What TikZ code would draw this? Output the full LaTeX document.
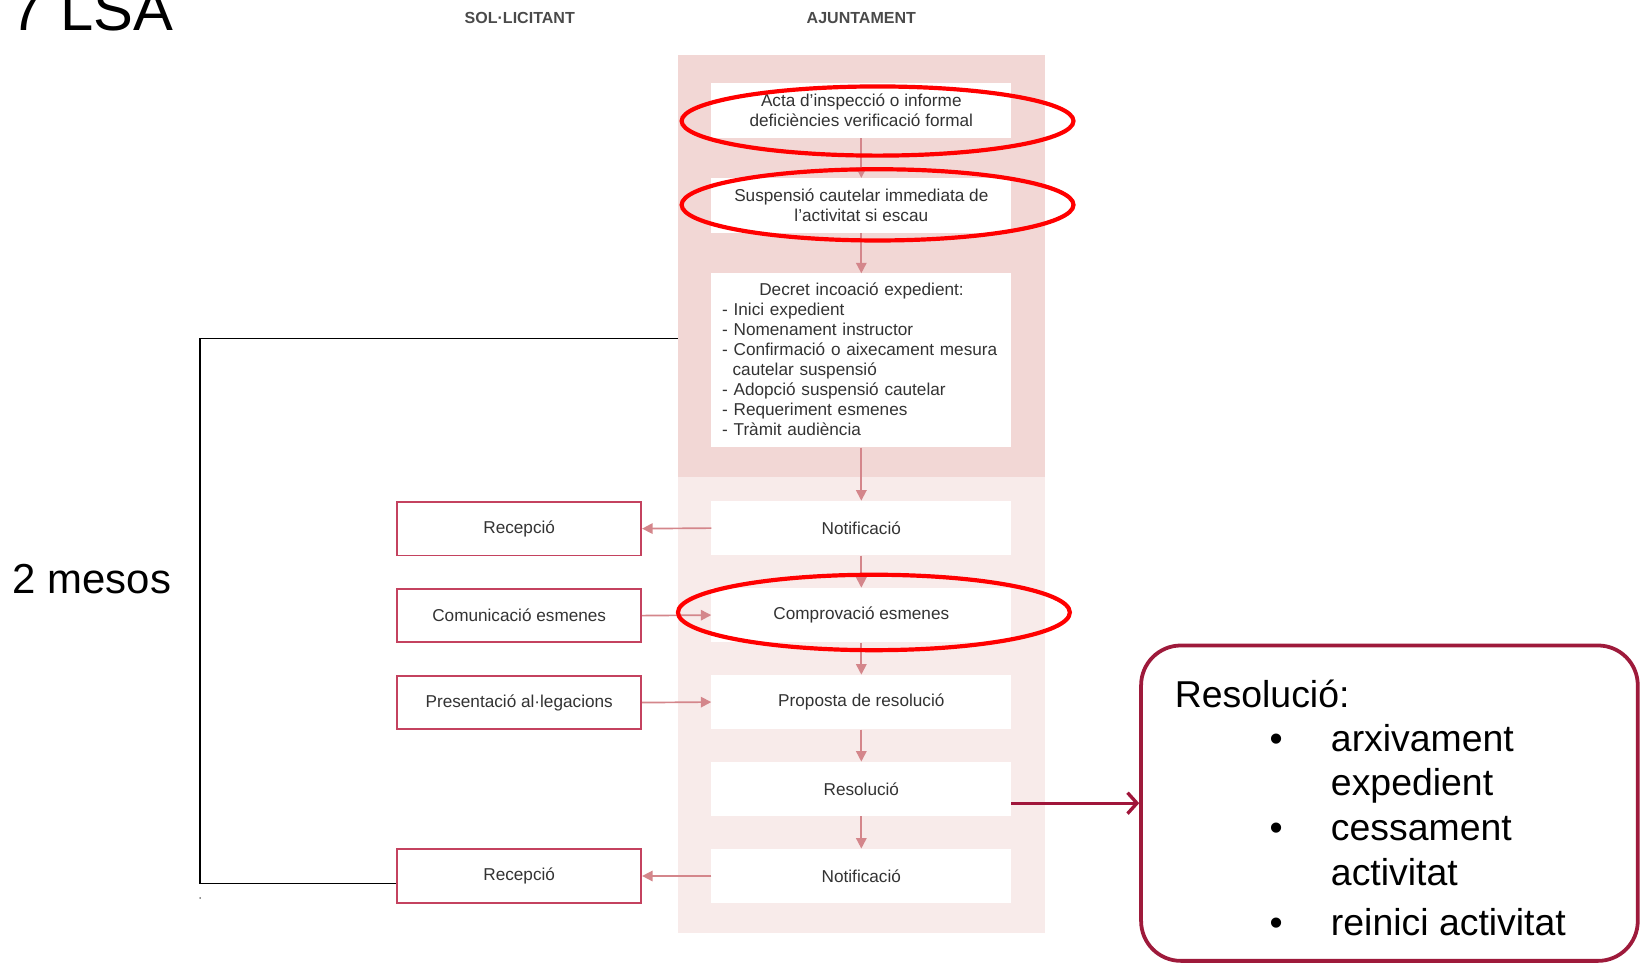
\documentclass[tikz,border=0pt]{standalone}
\usepackage{fontspec}
\setmainfont{Liberation Sans}
\usetikzlibrary{arrows.meta}
\definecolor{pinkA}{HTML}{F2D7D5}
\definecolor{pinkB}{HTML}{F8EBEA}
\definecolor{arrowpink}{HTML}{D4868B}
\definecolor{boxred}{HTML}{C4425F}
\definecolor{darkred}{HTML}{A0153A}
\definecolor{resred}{HTML}{9E1A3B}
\definecolor{txtgray}{HTML}{333333}
\definecolor{hdrgray}{HTML}{4A4A4A}
\begin{document}
\begin{tikzpicture}[x=1pt,y=-1pt,
  flowfont/.style={text=txtgray, font=\fontsize{16.4}{19}\selectfont},
  flowbox/.style={flowfont, fill=white, draw=none, minimum width=286pt, minimum height=52pt, inner sep=0pt, align=center},
  solbox/.style={flowfont, fill=white, draw=boxred, line width=1.6pt, minimum width=233pt, minimum height=51pt, inner sep=0pt},
  flowarrow/.style={draw=arrowpink, line width=1.6pt, -{Triangle[length=10pt,width=10pt]}},
  redring/.style={draw=red, line width=4pt},
  bracket/.style={draw=black, line width=1.4pt},
  resarrow/.style={draw=darkred, line width=3.2pt, -{Straight Barb[length=9pt,width=20pt]}},
  resframe/.style={draw=resred, line width=3.6pt, fill=white, rounded corners=38pt, minimum width=474pt, minimum height=301pt, inner sep=0pt},
  restext/.style={font=\fontsize{35.7}{43}\selectfont, inner sep=0pt},
  header/.style={text=hdrgray, font=\fontsize{15.3}{18}\selectfont\bfseries, inner sep=0pt}
]
\useasboundingbox (0,0) rectangle (1568,922);

% backgrounds
\node[fill=pinkA, minimum width=350pt, minimum height=403pt, inner sep=0pt, anchor=north west] (bgA) at (647,52) {};
\node[fill=pinkB, minimum width=350pt, minimum height=435pt, inner sep=0pt, anchor=north west] (bgB) at (647,455) {};

% titles
\node[font=\fontsize{57}{60}\selectfont, inner sep=0pt, anchor=base west] (title) at (10,29) {7 LSA};
\node[header, anchor=base] (hsol) at (496,22) {SOL·LICITANT};
\node[header, anchor=base] (hajt) at (822,22) {AJUNTAMENT};

% ajuntament column
\node[flowbox] (a1) at (822,105.5) {Acta d’inspecció o informe\\deficiències verificació formal};
\node[flowbox] (a2) at (822,196) {Suspensió cautelar immediata de\\l’activitat si escau};
\node[flowbox, minimum height=166pt] (a3) at (822,344) {};
\node[flowfont, text width=280pt, align=left, inner sep=0pt, anchor=north west] (a3t) at (689,270)
  {\makebox[266pt]{Decret incoació expedient:}\\
   - Inici expedient\\
   - Nomenament instructor\\
   - Confirmació o aixecament mesura\\
   \hspace*{10pt}cautelar suspensió\\
   - Adopció suspensió cautelar\\
   - Requeriment esmenes\\
   - Tràmit audiència};
\node[flowbox] (a4) at (822,504) {Notificació};
\node[flowbox] (a5) at (822,587) {Comprovació esmenes};
\node[flowbox] (a6) at (822,670) {Proposta de resolució};
\node[flowbox] (a7) at (822,753) {Resolució};
\node[flowbox] (a8) at (822,836) {Notificació};

% sol·licitant column
\node[solbox] (s1) at (495.5,504.5) {Recepció};
\node[solbox] (s2) at (495.5,587.5) {Comunicació esmenes};
\node[solbox] (s3) at (495.5,670.5) {Presentació al·legacions};
\node[solbox] (s4) at (495.5,836) {Recepció};

% arrows
\draw[flowarrow] (a1.south) -- (a2.north);
\draw[flowarrow] (a2.south) -- (a3.north);
\draw[flowarrow] (a3.south) -- (a4.north);
\draw[flowarrow] (a4.south) -- (a5.north);
\draw[flowarrow] (a5.south) -- (a6.north);
\draw[flowarrow] (a6.south) -- (a7.north);
\draw[flowarrow] (a7.south) -- (a8.north);
\draw[flowarrow] (a4.west) -- (s1.east);
\draw[flowarrow] (s2.east) -- (a5.west);
\draw[flowarrow] (s3.east) -- (a6.west);
\draw[flowarrow] (a8.west) -- (s4.east);

% red highlight ellipses
\draw[redring] (837.5,115.5) ellipse [x radius=187pt, y radius=33pt];
\draw[redring] (837.5,195.5) ellipse [x radius=187pt, y radius=34pt];
\draw[redring] (834,584.5) ellipse [x radius=187pt, y radius=36pt];

% 2 mesos bracket
\coordinate (brtop) at (647,323);
\draw[bracket] (brtop) -- ++(-456,0) |- ([yshift=-7pt]s4.west);
\fill[black] (191,857) circle (0.7pt);
\node[font=\fontsize{40}{44}\selectfont, inner sep=0pt, anchor=base west] (mesos) at (12,566) {2 mesos};

% resolució box
\node[resframe] (rbox) at (1326,766.5) {};
\draw[resarrow] (a7.east |- rbox.west) -- (rbox.west);
\node[restext, anchor=base west] (rt0) at (1121,675) {Resolució:};
\node[restext, anchor=base] (b1) at (1218,717) {•};
\node[restext, anchor=base west] (rt1) at (1270,717) {arxivament};
\node[restext, anchor=base west] (rt2) at (1270,759) {expedient};
\node[restext, anchor=base] (b2) at (1218,802) {•};
\node[restext, anchor=base west] (rt3) at (1270,802) {cessament};
\node[restext, anchor=base west] (rt4) at (1270,845) {activitat};
\node[restext, anchor=base] (b3) at (1218,893) {•};
\node[restext, anchor=base west] (rt5) at (1270,893) {reinici activitat};
\end{tikzpicture}
\end{document}
